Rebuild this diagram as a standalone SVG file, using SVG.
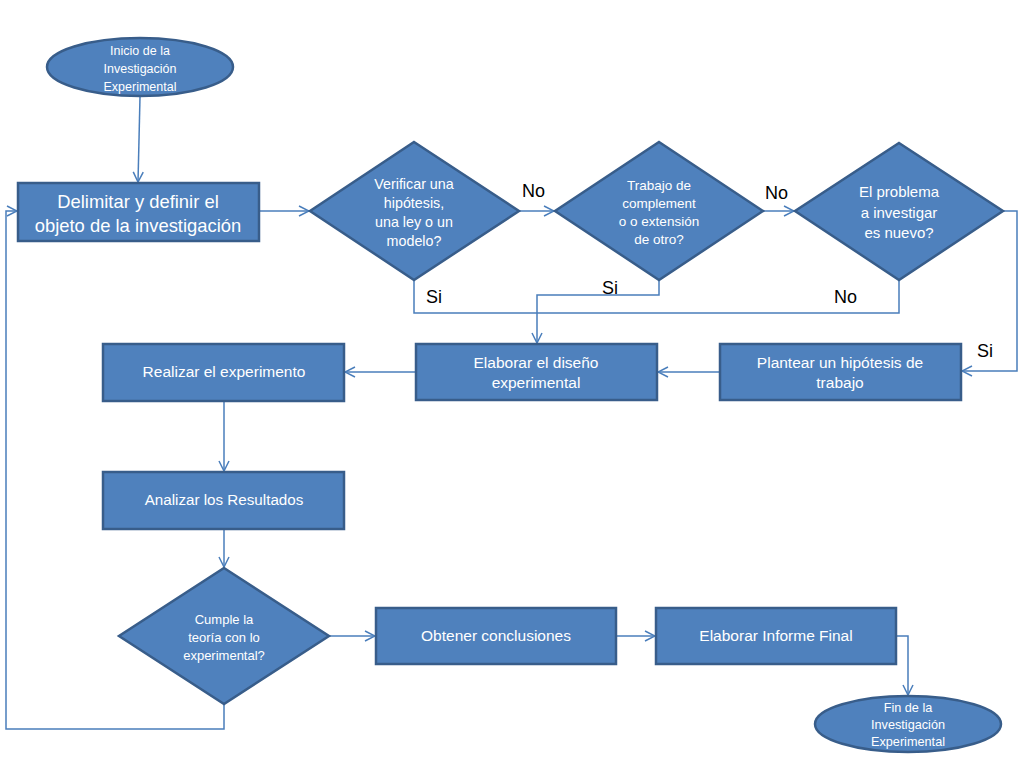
<svg xmlns="http://www.w3.org/2000/svg" width="1024" height="768" viewBox="0 0 1024 768">
<defs>
<marker id="arr" viewBox="0 0 12 12" refX="11" refY="6" markerWidth="12" markerHeight="12" markerUnits="userSpaceOnUse" orient="auto">
<path d="M1,1 L11,6 L1,11" fill="none" stroke="#4A7EBB" stroke-width="1.5"/>
</marker>
<style>
.n{fill:#4F81BD;stroke:#385D8A;stroke-width:2.5}
.t{fill:#FFFFFF;font-family:"Liberation Sans","Open Sans",sans-serif;text-anchor:middle}
.c{fill:none;stroke:#4A7EBB;stroke-width:1.5}
.l{fill:#000000;font-family:"Liberation Sans",Arial,sans-serif;font-size:18px}
</style>
</defs>
<rect width="1024" height="768" fill="#FFFFFF"/>
<g id="connectors">
<path class="c" d="M140,97 L138,182" marker-end="url(#arr)"/>
<path class="c" d="M259,211 L309,211" marker-end="url(#arr)"/>
<path class="c" d="M519,211 L554,211" marker-end="url(#arr)"/>
<path class="c" d="M763,211 L794,211" marker-end="url(#arr)"/>
<path class="c" d="M414,280 L414,313 L899,313 L899,280"/>
<path class="c" d="M659,280 L659,295 L537,295 L537,343" marker-end="url(#arr)"/>
<path class="c" d="M1003,211 L1017,211 L1017,371 L962,371" marker-end="url(#arr)"/>
<path class="c" d="M720,372 L658,372" marker-end="url(#arr)"/>
<path class="c" d="M416,372 L345,372" marker-end="url(#arr)"/>
<path class="c" d="M224,401 L224,471" marker-end="url(#arr)"/>
<path class="c" d="M224,529 L224,567" marker-end="url(#arr)"/>
<path class="c" d="M224,704 L224,729 L6,729 L6,211 L17,211" marker-end="url(#arr)"/>
<path class="c" d="M329,636 L375,636" marker-end="url(#arr)"/>
<path class="c" d="M616,636 L655,636" marker-end="url(#arr)"/>
<path class="c" d="M896,636 L908,636 L908,695" marker-end="url(#arr)"/>
<text class="l" x="522" y="197">No</text>
<text class="l" x="765" y="199">No</text>
<text class="l" x="426" y="303">Si</text>
<text class="l" x="602" y="294">Si</text>
<text class="l" x="834" y="303">No</text>
<text class="l" x="977" y="357">Si</text>
</g>
<g id="inicio">
<ellipse class="n" cx="140" cy="67" rx="93" ry="29"/>
<text class="t" font-size="12.5"><tspan x="140" y="55">Inicio de la</tspan><tspan x="140" y="73">Investigación</tspan><tspan x="140" y="91">Experimental</tspan></text>
</g>
<g id="delimitar">
<rect class="n" x="18" y="183" width="241" height="58"/>
<text class="t" font-size="18.4"><tspan x="138" y="208">Delimitar y definir el</tspan><tspan x="138" y="232">objeto de la investigación</tspan></text>
</g>
<g id="verificar">
<polygon class="n" points="414,142 519,211 414,280 310,211"/>
<text class="t" font-size="14.3"><tspan x="414" y="189">Verificar una</tspan><tspan x="414" y="208">hipótesis,</tspan><tspan x="414" y="227">una ley o un</tspan><tspan x="414" y="246">modelo?</tspan></text>
</g>
<g id="trabajo">
<polygon class="n" points="659,142 763,211 659,280 555,211"/>
<text class="t" font-size="13.5"><tspan x="659" y="190">Trabajo de</tspan><tspan x="659" y="208">complement</tspan><tspan x="659" y="226">o o extensión</tspan><tspan x="659" y="244">de otro?</tspan></text>
</g>
<g id="problema">
<polygon class="n" points="899,143 1003,211 899,280 795,211"/>
<text class="t" font-size="15"><tspan x="899" y="197">El problema</tspan><tspan x="899" y="218">a investigar</tspan><tspan x="899" y="238">es nuevo?</tspan></text>
</g>
<g id="plantear">
<rect class="n" x="720" y="344" width="241" height="56"/>
<text class="t" font-size="15.5"><tspan x="840" y="368">Plantear un hipótesis de</tspan><tspan x="840" y="388">trabajo</tspan></text>
</g>
<g id="elaborar-diseno">
<rect class="n" x="416" y="344" width="241" height="56"/>
<text class="t" font-size="15.5"><tspan x="536" y="368">Elaborar el diseño</tspan><tspan x="536" y="388">experimental</tspan></text>
</g>
<g id="realizar">
<rect class="n" x="103" y="344" width="241" height="57"/>
<text class="t" font-size="15.5" x="224" y="377">Realizar el experimento</text>
</g>
<g id="analizar">
<rect class="n" x="103" y="472" width="241" height="57"/>
<text class="t" font-size="15.2" x="224" y="505">Analizar los Resultados</text>
</g>
<g id="cumple">
<polygon class="n" points="224,568 329,636 224,704 119,636"/>
<text class="t" font-size="13"><tspan x="224" y="624">Cumple  la</tspan><tspan x="224" y="642">teoría con lo</tspan><tspan x="224" y="660">experimental?</tspan></text>
</g>
<g id="obtener">
<rect class="n" x="376" y="608" width="240" height="56"/>
<text class="t" font-size="15.5" x="496" y="641">Obtener conclusiones</text>
</g>
<g id="informe">
<rect class="n" x="656" y="608" width="240" height="56"/>
<text class="t" font-size="15.5" x="776" y="641">Elaborar Informe Final</text>
</g>
<g id="fin">
<ellipse class="n" cx="908" cy="724" rx="93" ry="28"/>
<text class="t" font-size="12.7"><tspan x="908" y="712">Fin de la</tspan><tspan x="908" y="729">Investigación</tspan><tspan x="908" y="746">Experimental</tspan></text>
</g>
</svg>
